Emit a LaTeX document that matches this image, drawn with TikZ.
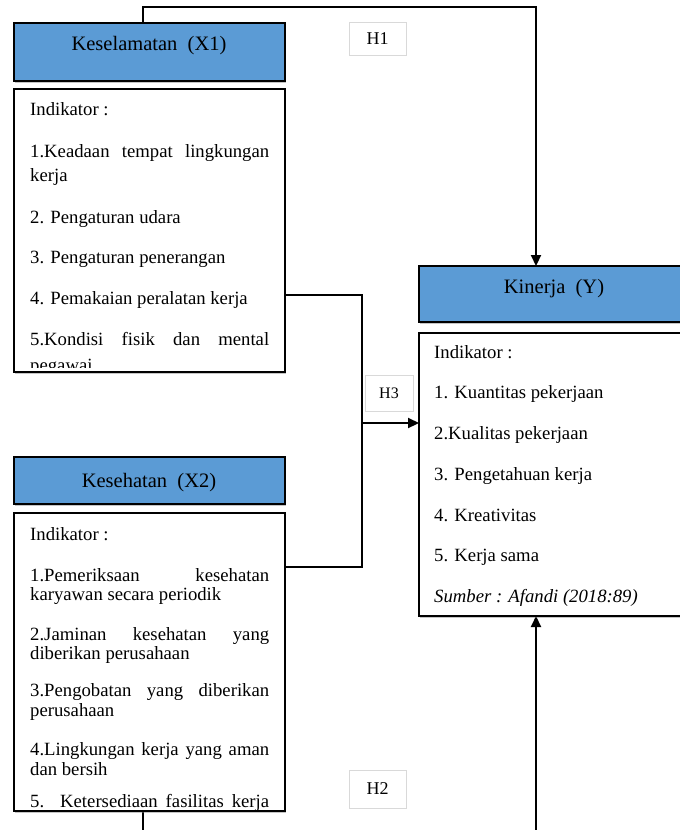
\documentclass[tikz,border=0pt]{standalone}
\usepackage{fontspec}
\setmainfont{Liberation Serif}
\usetikzlibrary{arrows.meta,shadows}
\definecolor{hdrblue}{HTML}{5B9BD5}
\definecolor{lblgray}{HTML}{D9D9D9}
\begin{document}
\begin{tikzpicture}[x=1pt,y=-1pt,
  hdr/.style={draw=black,line width=2.2pt,fill=hdrblue,
    drop shadow={shadow xshift=1pt,shadow yshift=-1.5pt,opacity=0.45}},
  ind/.style={draw=black,line width=2.2pt,fill=white,
    drop shadow={shadow xshift=1pt,shadow yshift=-1.5pt,opacity=0.45}},
  htxt/.style={font=\fontsize{20.5}{24}\selectfont,inner sep=0pt,anchor=base},
  txt/.style={font=\fontsize{18.7}{22}\selectfont,inner sep=0pt,anchor=base west},
  lbl/.style={draw=lblgray,line width=0.8pt,fill=white},
  ltxt/.style={font=\fontsize{18}{20}\selectfont,inner sep=0pt},
  conn/.style={line width=2.2pt},
  arr/.style={line width=2.2pt,-{Triangle[length=11pt,width=10pt]}}]
\useasboundingbox (0,0) rectangle (680,830);
\clip (0,0) rectangle (680,830);
\fill[white] (0,0) rectangle (680,830);

% ---------- connectors ----------
\coordinate (tl) at (143,7);
\coordinate (tr) at (536,7);
\coordinate (bl) at (143,850);
\coordinate (br) at (536,850);
\coordinate (j1) at (362,295);
\coordinate (j2) at (362,567);
\coordinate (jm) at (362,423);
\coordinate (x1out) at (285,295);
\coordinate (x2out) at (285,567);
\coordinate (x1top) at (143,23);
\coordinate (x2bot) at (143,811);
\coordinate (ytop) at (536,266);
\coordinate (ybot) at (536,616);
\coordinate (yleft) at (419,423);

\draw[arr] (x1top) -- (tl) -- (tr) -- (ytop);
\draw[conn] (x1out) -- (j1) -- (j2) -- (x2out);
\draw[arr] (jm) -- (yleft);
\draw[arr] (x2bot) -- (bl) -- (br) -- (ybot);

% ---------- X1 ----------
\path[hdr] (14,23) rectangle (285,81);
\node[htxt] (x1h) at (149,50) {Keselamatan\ \ (X1)};
\path[ind] (14,89) rectangle (285,372);
\begin{scope}
\clip (15,90) rectangle (284,367);
\node[txt] (x1a) at (30,115) {Indikator :};
\node[txt] (x1b) at (30,157) {\makebox[239pt][s]{1.Keadaan tempat lingkungan}};
\node[txt] (x1c) at (30,181) {kerja};
\node[txt] (x1d) at (30,223) {2. Pengaturan udara};
\node[txt] (x1e) at (30,263) {3. Pengaturan penerangan};
\node[txt] (x1f) at (30,304) {4. Pemakaian peralatan kerja};
\node[txt] (x1g) at (30,345) {\makebox[239pt][s]{5.Kondisi fisik dan mental}};
\node[txt] (x1i) at (30,371) {pegawai};
\end{scope}

% ---------- X2 ----------
\path[hdr] (14,457) rectangle (285,504);
\node[htxt] (x2h) at (149,487) {Kesehatan\ \ (X2)};
\path[ind] (14,513) rectangle (285,811);
\begin{scope}
\clip (15,514) rectangle (284,809);
\node[txt] (x2a) at (30,540) {Indikator :};
\node[txt] (x2b) at (30,581) {\makebox[239pt][s]{1.Pemeriksaan kesehatan}};
\node[txt] (x2c) at (30,600) {karyawan secara periodik};
\node[txt] (x2d) at (30,640) {\makebox[239pt][s]{2.Jaminan kesehatan yang}};
\node[txt] (x2e) at (30,659) {diberikan perusahaan};
\node[txt] (x2f) at (30,696) {\makebox[239pt][s]{3.Pengobatan yang diberikan}};
\node[txt] (x2g) at (30,716) {perusahaan};
\node[txt] (x2i) at (30,755) {\makebox[239pt][s]{4.Lingkungan kerja yang aman}};
\node[txt] (x2j) at (30,775) {dan bersih};
\node[txt] (x2k) at (30,807) {\makebox[239pt][s]{5. Ketersediaan fasilitas kerja}};
\end{scope}

% ---------- Y ----------
\path[hdr] (419,266) rectangle (690,322);
\node[htxt] (yh) at (554,293) {Kinerja\ \ (Y)};
\path[ind] (419,333) rectangle (690,616);
\node[txt] (ya) at (434,358) {Indikator :};
\node[txt] (yb) at (434,398) {1. Kuantitas pekerjaan};
\node[txt] (yc) at (434,439) {2.Kualitas pekerjaan};
\node[txt] (yd) at (434,480) {3. Pengetahuan kerja};
\node[txt] (ye) at (434,521) {4. Kreativitas};
\node[txt] (yf) at (434,561) {5. Kerja sama};
\node[txt] (yg) at (434,602) {\itshape Sumber : Afandi (2018:89)};

% ---------- labels ----------
\path[lbl] (349,22) rectangle (406,55);
\node[ltxt] (h1) at (377.5,38.5) {H1};
\path[lbl] (365,375) rectangle (413,411);
\node[ltxt,font=\fontsize{16}{18}\selectfont] (h3) at (389,393) {H3};
\path[lbl] (349,770) rectangle (406,808);
\node[ltxt] (h2) at (377.5,789) {H2};
\end{tikzpicture}
\end{document}
